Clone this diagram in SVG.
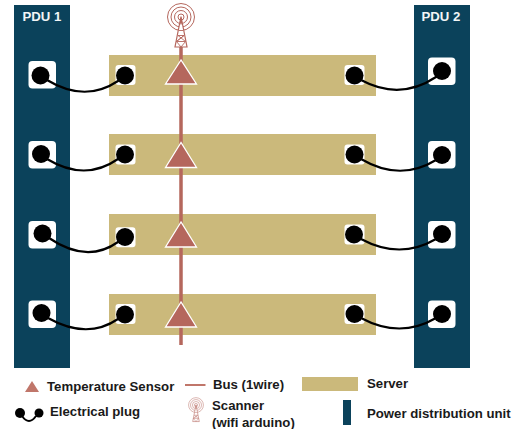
<svg xmlns="http://www.w3.org/2000/svg" xmlns:xlink="http://www.w3.org/1999/xlink" width="518" height="429" viewBox="0 0 518 429">
<style>
.pdu{fill:#0b425b}.srv{fill:#cbb97b}
.pad{fill:#fff}
.plug{fill:#000}
.cable{fill:none;stroke:#000;stroke-width:2.2;stroke-linecap:round}
.tri{fill:#b5675d;stroke:#fff;stroke-width:1.3}
.bus{stroke:#b5675d;stroke-width:3.500;fill:none}
.ant{fill:none;stroke:#b5675d}
text{font-family:"Liberation Sans",Arial,sans-serif;font-weight:700;font-size:13.2px;fill:#1a1a1a}
.w{fill:#f2f5f6}
</style>
<defs>
<g id="antenna">
<circle cx="0" cy="-3.500" r="13.500" class="ant" stroke-width="1"/>
<circle cx="0" cy="-3.500" r="10" class="ant" stroke-width="1"/>
<circle cx="0" cy="-3.500" r="6.500" class="ant" stroke-width="1"/>
<circle cx="0" cy="-3.500" r="3" fill="#fff" stroke="#b5675d" stroke-width="1"/>
<path d="M0,-3.500V4M0,-4L-6,26.500L6,26.500Z" fill="#fff" stroke="#b5675d" stroke-width="1.200"/>
<path d="M-2,10L2,10M-3,15L3,15L-4.500,21L4.500,21M3,15L-4.500,21M-3,15L4.500,21M-4.500,21L0,26.500L4.500,21" fill="none" stroke="#b5675d" stroke-width="0.900"/>
</g>
</defs>
<g id="pdu-1"><rect class="pdu" x="14" y="5" width="56" height="363"/><text class="w" x="22.500" y="21">PDU 1</text></g>
<g id="pdu-2"><rect class="pdu" x="414" y="5" width="56" height="363"/><text class="w" x="421.500" y="21">PDU 2</text></g>
<g id="server-1"><rect class="srv" x="109" y="55" width="267" height="41"/></g>
<g id="server-2"><rect class="srv" x="109" y="134" width="267" height="41"/></g>
<g id="server-3"><rect class="srv" x="109" y="214" width="267" height="41"/></g>
<g id="server-4"><rect class="srv" x="109" y="294" width="267" height="41"/></g>
<g id="bus"><line class="bus" x1="181" y1="45" x2="181" y2="345"/></g>
<g id="scanner"><use xlink:href="#antenna" href="#antenna" transform="translate(181,20.500)"/></g>
<g id="sensors">
<polygon class="tri" points="181,60 165.500,84 196.500,84"/>
<polygon class="tri" points="181,142.500 165.500,167.500 196.500,167.500"/>
<polygon class="tri" points="181,222 165.500,247 196.500,247"/>
<polygon class="tri" points="181,302 165.500,327 196.500,327"/>
</g>
<g id="pads">
<rect class="pad" x="28.500" y="61" width="27.500" height="27.500" rx="4"/>
<rect class="pad" x="28.500" y="141" width="27.500" height="27.500" rx="4"/>
<rect class="pad" x="28.500" y="221" width="27.500" height="27.500" rx="4"/>
<rect class="pad" x="28.500" y="300.500" width="27.500" height="27.500" rx="4"/>
<rect class="pad" x="115.500" y="65" width="20" height="20" rx="3"/>
<rect class="pad" x="115.500" y="144.500" width="20" height="20" rx="3"/>
<rect class="pad" x="115.500" y="227.300" width="20" height="20" rx="3"/>
<rect class="pad" x="115.500" y="304" width="20" height="20" rx="3"/>
<rect class="pad" x="344.500" y="65" width="20" height="20" rx="3"/>
<rect class="pad" x="344.500" y="144.500" width="20" height="20" rx="3"/>
<rect class="pad" x="344.500" y="224.500" width="20" height="20" rx="3"/>
<rect class="pad" x="344.500" y="304" width="20" height="20" rx="3"/>
<rect class="pad" x="428" y="57.500" width="27.500" height="27.500" rx="4"/>
<rect class="pad" x="428" y="141" width="27.500" height="27.500" rx="4"/>
<rect class="pad" x="428" y="221" width="27.500" height="27.500" rx="4"/>
<rect class="pad" x="428" y="300.500" width="27.500" height="27.500" rx="4"/>
</g>
<g id="connectors">
<path class="cable" d="M47,80Q85,103 118,81"/>
<path class="cable" d="M47,159Q85,182 118,159"/>
<path class="cable" d="M49,238Q87,264 118,242"/>
<path class="cable" d="M48,318Q87,340 118,319"/>
<path class="cable" d="M361,80Q400,101 436,77"/>
<path class="cable" d="M361,159Q400,182 436,160"/>
<path class="cable" d="M361,239Q400,260 436,239"/>
<path class="cable" d="M361,318Q400,339 436,318"/>
</g>
<g id="plugs">
<circle class="plug" cx="40.500" cy="75.500" r="9"/><circle class="plug" cx="125" cy="75.500" r="9"/><circle class="plug" cx="354.500" cy="75.500" r="9"/><circle class="plug" cx="442" cy="71" r="9"/>
<circle class="plug" cx="41" cy="154" r="9"/><circle class="plug" cx="125" cy="154.500" r="9"/><circle class="plug" cx="354.500" cy="154.500" r="9"/><circle class="plug" cx="442" cy="155" r="9"/>
<circle class="plug" cx="42.500" cy="233.500" r="9"/><circle class="plug" cx="125" cy="237" r="9"/><circle class="plug" cx="354" cy="234.500" r="9"/><circle class="plug" cx="442" cy="234" r="9"/>
<circle class="plug" cx="41.500" cy="313" r="9"/><circle class="plug" cx="125" cy="314.500" r="9"/><circle class="plug" cx="354.500" cy="314" r="9"/><circle class="plug" cx="442" cy="314" r="9"/>
</g>
<g id="legend">
<polygon points="32,381 25,392 39,392" fill="#c0766a"/>
<text x="47" y="391">Temperature Sensor</text>
<line x1="185" y1="385" x2="205.500" y2="385" stroke="#c0766a" stroke-width="2"/>
<text x="213" y="389">Bus (1wire)</text>
<rect class="srv" x="302" y="377" width="56" height="14"/>
<text x="367" y="388">Server</text>
<circle class="plug" cx="20" cy="413" r="5"/><circle class="plug" cx="39" cy="413" r="4.500"/>
<path d="M22,416Q29,426 36,416" fill="none" stroke="#000" stroke-width="2"/>
<text x="50" y="416">Electrical plug</text>
<use xlink:href="#antenna" href="#antenna" transform="translate(196,407) scale(0.55)" opacity="0.85"/>
<text x="212" y="410">Scanner</text>
<text x="212" y="427">(wifi arduino)</text>
<rect class="pdu" x="343" y="400" width="8" height="25"/>
<text x="367" y="418">Power distribution unit</text>
</g>
</svg>
